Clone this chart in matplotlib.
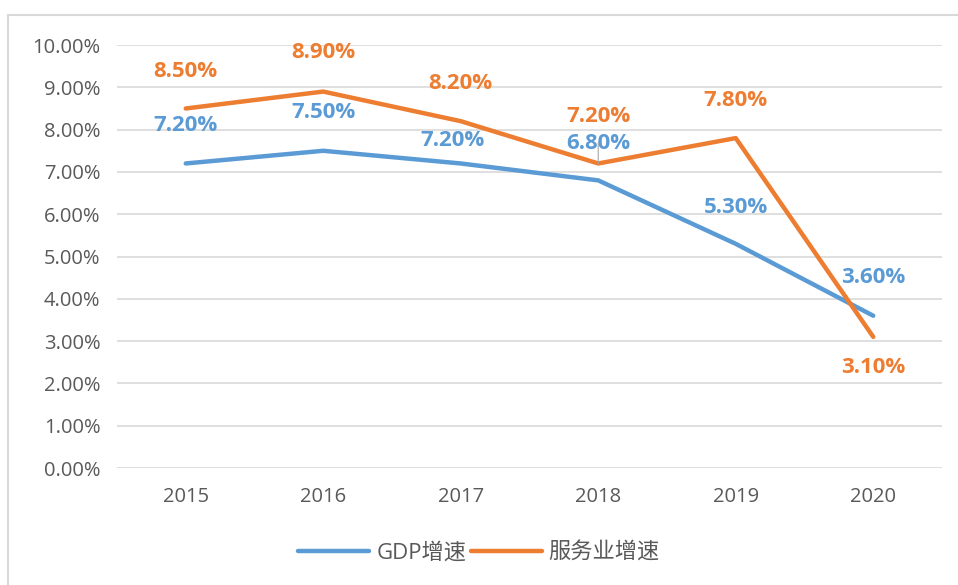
import matplotlib.pyplot as plt
from matplotlib.patches import Rectangle

years = ['2015', '2016', '2017', '2018', '2019', '2020']
gdp = [7.2, 7.5, 7.2, 6.8, 5.3, 3.6]
service = [8.5, 8.9, 8.2, 7.2, 7.8, 3.1]

# label offsets in pixels (dx, dy)
gdp_off = [(0, 38), (0, 38), (-8, 23), (0, 37), (0, 36), (0, 38)]
svc_off = [(0, 37), (0, 39), (0, 38), (0, 47), (0, 38), (0, -31)]

blue = '#5B9BD5'
orange = '#ED7D31'

plt.rcParams['font.family'] = ['Open Sans', 'Noto Sans CJK SC', 'DejaVu Sans']

fig = plt.figure(figsize=(9.58, 5.85), dpi=100)
ax = fig.add_axes([0.1221, 0.2, 0.8612, 0.723])

x = range(len(years))
ax.plot(x, gdp, color=blue, lw=3.2, solid_capstyle='round', label='GDP增速', zorder=3)
ax.plot(x, service, color=orange, lw=3.2, solid_capstyle='round', label='服务业增速', zorder=3)

for i, v in enumerate(gdp):
    ax.annotate(f'{v:.2f}%', (i, v), xytext=gdp_off[i], textcoords='offset pixels',
                ha='center', va='center', color=blue, fontsize=16, fontweight='bold', zorder=4)
for i, v in enumerate(service):
    kw = {}
    if years[i] == '2018':
        kw = dict(arrowprops=dict(arrowstyle='-', color='#A6A6A6', lw=0.8, shrinkA=9, shrinkB=0))
    ax.annotate(f'{v:.2f}%', (i, v), xytext=svc_off[i], textcoords='offset pixels',
                ha='center', va='center', color=orange, fontsize=16, fontweight='bold', zorder=4, **kw)

ax.set_xlim(-0.5, len(years) - 0.5)
ax.set_ylim(0, 10)
ax.set_yticks([i for i in range(11)])
ax.set_yticklabels([f'{i:.2f}%' for i in range(11)])
ax.set_xticks(list(x))
ax.set_xticklabels(years)
ax.grid(axis='y', color='#D9D9D9', lw=1.2)
ax.set_axisbelow(True)
for s in ax.spines.values():
    s.set_visible(False)
ax.tick_params(length=0, labelsize=14.5, colors='#595959', pad=14)
ax.tick_params(axis='y', pad=12)

fig.legend(loc='center', bbox_to_anchor=(0.5, 0.055), ncol=2, frameon=False,
           fontsize=16, labelcolor='#595959', handlelength=3.2, columnspacing=0.2,
           handletextpad=0.3)

fig.patches.append(Rectangle((8 / 958, -0.1), 1.2, 1 - 15 / 585 + 0.1, transform=fig.transFigure,
                             fill=False, edgecolor='#D9D9D9', lw=1.5))

fig.savefig('out.png', dpi=100)
